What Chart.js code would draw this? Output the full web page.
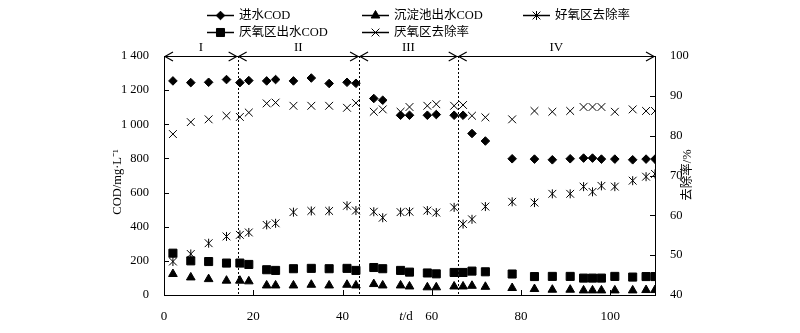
<!DOCTYPE html>
<html>
<head>
<meta charset="utf-8">
<script src="https://cdn.jsdelivr.net/npm/chart.js@4.4.0/dist/chart.umd.min.js"></script>
<style>
  html, body { margin: 0; padding: 0; background: #fff; }
  #wrap { width: 800px; height: 333px; }
</style>
</head>
<body>
<div id="wrap"><canvas id="chart" width="800" height="333"></canvas></div>
<script>
'use strict';

// sampling days (t/d)
var days = [2, 6, 10, 14, 17, 19, 23, 25, 29, 33, 37, 41, 43, 47, 49, 53, 55, 59, 61, 65, 67, 69, 72, 78, 83, 87, 91, 94, 96, 98, 101, 105, 108, 110];

// COD, mg/L (left axis)
var influentCOD = [1254, 1244, 1246, 1262, 1244, 1256, 1254, 1262, 1254, 1271, 1239, 1246, 1240, 1151, 1141, 1053, 1053, 1053, 1057, 1053, 1053, 946, 902, 798, 796, 792, 798, 802, 802, 796, 796, 792, 796, 796];
var anaerobicCOD = [245, 200, 196, 187, 187, 179, 148, 144, 154, 156, 154, 156, 144, 161, 154, 144, 134, 129, 124, 132, 132, 140, 136, 123, 108, 109, 109, 99, 99, 99, 109, 105, 108, 108];
var settlingCOD = [123, 103, 93, 84, 84, 80, 56, 56, 56, 60, 56, 60, 56, 64, 56, 56, 50, 45, 45, 50, 50, 54, 48, 41, 35, 31, 31, 27, 27, 27, 27, 27, 29, 29];

// removal rate, % (right axis)
var anaerobicRate = [80.4, 83.4, 84.1, 85.0, 84.7, 85.8, 88.1, 88.3, 87.5, 87.5, 87.5, 87.0, 88.2, 86.0, 86.6, 86.0, 87.2, 87.5, 87.9, 87.5, 87.7, 85.0, 84.6, 84.1, 86.2, 86.0, 86.2, 87.2, 87.2, 87.2, 86.0, 86.6, 86.2, 86.2];
var aerobicRate = [48.4, 50.3, 53.0, 54.7, 55.1, 55.7, 57.6, 58.0, 60.8, 61.1, 61.1, 62.4, 61.2, 60.9, 59.4, 60.8, 60.9, 61.2, 60.7, 62.0, 57.8, 59.0, 62.2, 63.4, 63.2, 65.4, 65.4, 67.2, 65.9, 67.4, 67.2, 68.7, 69.7, 70.4];

// operating phases
var phaseBounds = [0, 16.5, 43.7, 65.8, 110];
var phaseNames = ['I', 'II', 'III', 'IV'];

var serif = '"Liberation Serif", "Times New Roman", "Noto Sans CJK SC", serif';

function pts(vals) {
  return days.map(function(d, i) { return { x: d, y: vals[i] }; });
}

function fmtThousands(v) {
  if (v >= 1000) return Math.floor(v / 1000) + ' ' + String(v % 1000).padStart(3, '0');
  return String(v);
}

function marker(ctx, style, radius, rotation, x, y) {
  if (Chart.helpers && Chart.helpers.drawPoint) {
    Chart.helpers.drawPoint(ctx, { pointStyle: style, radius: radius, rotation: rotation, borderWidth: 1 }, x, y);
  }
}

var overlay = {
  id: 'overlay',
  afterDraw: function(chart) {
    var ctx = chart.ctx, a = chart.chartArea;
    var xs = chart.scales.x, yl = chart.scales.y, yr = chart.scales.y1;
    ctx.save();
    ctx.strokeStyle = '#000';
    ctx.fillStyle = '#000';
    ctx.lineWidth = 1;

    // inward tick marks
    ctx.beginPath();
    xs.ticks.forEach(function(t) {
      var px = Math.round(xs.getPixelForValue(t.value)) + 0.5;
      ctx.moveTo(px, a.bottom); ctx.lineTo(px, a.bottom - 5);
    });
    yl.ticks.forEach(function(t) {
      var py = Math.round(yl.getPixelForValue(t.value)) + 0.5;
      ctx.moveTo(a.left, py); ctx.lineTo(a.left + 5, py);
    });
    yr.ticks.forEach(function(t) {
      var py = Math.round(yr.getPixelForValue(t.value)) + 0.5;
      ctx.moveTo(a.right, py); ctx.lineTo(a.right - 5, py);
    });
    ctx.stroke();

    // phase boundaries
    ctx.setLineDash([2, 2]);
    ctx.beginPath();
    for (var i = 1; i < phaseBounds.length - 1; i++) {
      var bx = Math.round(xs.getPixelForValue(phaseBounds[i])) + 0.5;
      ctx.moveTo(bx, a.top); ctx.lineTo(bx, a.bottom);
    }
    ctx.stroke();
    ctx.setLineDash([]);

    // phase arrows along the top
    var ay = Math.round(a.top) + 0.5;
    ctx.lineWidth = 1.2;
    ctx.beginPath();
    ctx.moveTo(a.left, ay); ctx.lineTo(a.right, ay);
    for (var j = 0; j < phaseNames.length; j++) {
      var x0 = xs.getPixelForValue(phaseBounds[j]);
      var x1 = xs.getPixelForValue(phaseBounds[j + 1]);
      ctx.moveTo(x0 + 9, ay - 4.5); ctx.lineTo(x0 + 1, ay); ctx.lineTo(x0 + 9, ay + 4.5);
      ctx.moveTo(x1 - 9, ay - 4.5); ctx.lineTo(x1 - 1, ay); ctx.lineTo(x1 - 9, ay + 4.5);
    }
    ctx.stroke();
    ctx.font = '13px ' + serif;
    ctx.textAlign = 'center';
    ctx.textBaseline = 'alphabetic';
    for (var k = 0; k < phaseNames.length; k++) {
      var cx = (xs.getPixelForValue(phaseBounds[k]) + xs.getPixelForValue(phaseBounds[k + 1])) / 2;
      ctx.fillText(phaseNames[k], cx, ay - 6);
    }

    // axis titles
    ctx.font = '12.5px ' + serif;
    ctx.textBaseline = 'middle';
    ctx.save();
    ctx.translate(118, 182);
    ctx.rotate(-Math.PI / 2);
    ctx.fillText('COD/mg·L⁻¹', 0, 0);
    ctx.restore();
    ctx.save();
    ctx.translate(688, 175);
    ctx.rotate(-Math.PI / 2);
    ctx.fillText('去除率/%', 0, 0);
    ctx.restore();
    ctx.textAlign = 'left';
    ctx.font = 'italic 13px ' + serif;
    var tw = ctx.measureText('t').width;
    ctx.font = '13px ' + serif;
    var dw = ctx.measureText('/d').width;
    var sx = 406 - (tw + dw) / 2;
    ctx.font = 'italic 13px ' + serif;
    ctx.fillText('t', sx, 317);
    ctx.font = '13px ' + serif;
    ctx.fillText('/d', sx + tw, 317);

    // legend: column-major, two rows
    var colX = [207, 362, 523];
    var rowY = [15, 32];
    ctx.font = '12.5px ' + serif;
    var n = 0;
    chart.data.datasets.forEach(function(ds) {
      if (ds.legendSkip) return;
      var lx = colX[Math.floor(n / 2)], ly = rowY[n % 2];
      n++;
      ctx.lineWidth = 1.5;
      ctx.beginPath();
      ctx.moveTo(lx, ly + 0.5); ctx.lineTo(lx + 27, ly + 0.5);
      ctx.stroke();
      ctx.lineWidth = 1;
      marker(ctx, ds.pointStyle, ds.pointRadius, 0, lx + 13.5, ly + 0.5);
      if (ds.asterisk) marker(ctx, 'line', 4.5, 90, lx + 13.5, ly + 0.5);
      ctx.fillStyle = '#000';
      ctx.textBaseline = 'middle';
      ctx.fillText(ds.label, lx + 32, ly + 1);
    });
    ctx.restore();
  }
};

var ctx = document.getElementById('chart');
var chart = new Chart(ctx, {
  type: 'scatter',
  data: {
    datasets: [{
      label: '进水COD', data: pts(influentCOD), yAxisID: 'y',
      pointStyle: 'rectRot', pointRadius: 4.3, pointBorderWidth: 1,
      backgroundColor: '#000', borderColor: '#000'
    }, {
      label: '厌氧区出水COD', data: pts(anaerobicCOD), yAxisID: 'y',
      pointStyle: 'rect', pointRadius: 5.7, pointBorderWidth: 1,
      backgroundColor: '#000', borderColor: '#000'
    }, {
      label: '沉淀池出水COD', data: pts(settlingCOD), yAxisID: 'y',
      pointStyle: 'triangle', pointRadius: 5, pointBorderWidth: 1,
      backgroundColor: '#000', borderColor: '#000'
    }, {
      label: '厌氧区去除率', data: pts(anaerobicRate), yAxisID: 'y1',
      pointStyle: 'crossRot', pointRadius: 5.5, pointBorderWidth: 1,
      backgroundColor: '#000', borderColor: '#000'
    }, {
      label: '好氧区去除率', data: pts(aerobicRate), yAxisID: 'y1', asterisk: true,
      pointStyle: 'crossRot', pointRadius: 5.5, pointBorderWidth: 1,
      backgroundColor: '#000', borderColor: '#000'
    }, {
      // vertical bar completing the asterisk marker
      label: '好氧区去除率', data: pts(aerobicRate), yAxisID: 'y1', legendSkip: true,
      pointStyle: 'line', pointRotation: 90, pointRadius: 4.5, pointBorderWidth: 1,
      backgroundColor: '#000', borderColor: '#000'
    }]
  },
  options: {
    responsive: false,
    animation: false,
    layout: { padding: { top: 56, left: 0, right: 0, bottom: 0 } },
    plugins: { legend: { display: false }, tooltip: { enabled: false } },
    scales: {
      x: {
        type: 'linear', min: 0, max: 110,
        grid: { display: false },
        border: { display: true, color: '#000', width: 1 },
        ticks: { stepSize: 20, color: '#000', padding: 6, maxRotation: 0, font: { family: serif, size: 13 } },
        afterBuildTicks: function(s) { s.ticks = s.ticks.filter(function(t) { return t.value % 20 === 0; }); },
        afterFit: function(s) { s.height = 38; }
      },
      y: {
        position: 'left', min: 0, max: 1400,
        grid: { display: false },
        border: { display: true, color: '#000', width: 1 },
        ticks: { stepSize: 200, color: '#000', padding: 7, font: { family: serif, size: 12.5 }, callback: fmtThousands },
        afterFit: function(s) { s.width = 164; }
      },
      y1: {
        position: 'right', min: 40, max: 100,
        grid: { display: false },
        border: { display: true, color: '#000', width: 1 },
        ticks: { stepSize: 10, color: '#000', padding: 7, font: { family: serif, size: 12.5 } },
        afterFit: function(s) { s.width = 145; }
      }
    }
  },
  plugins: [overlay]
});
</script>
</body>
</html>
